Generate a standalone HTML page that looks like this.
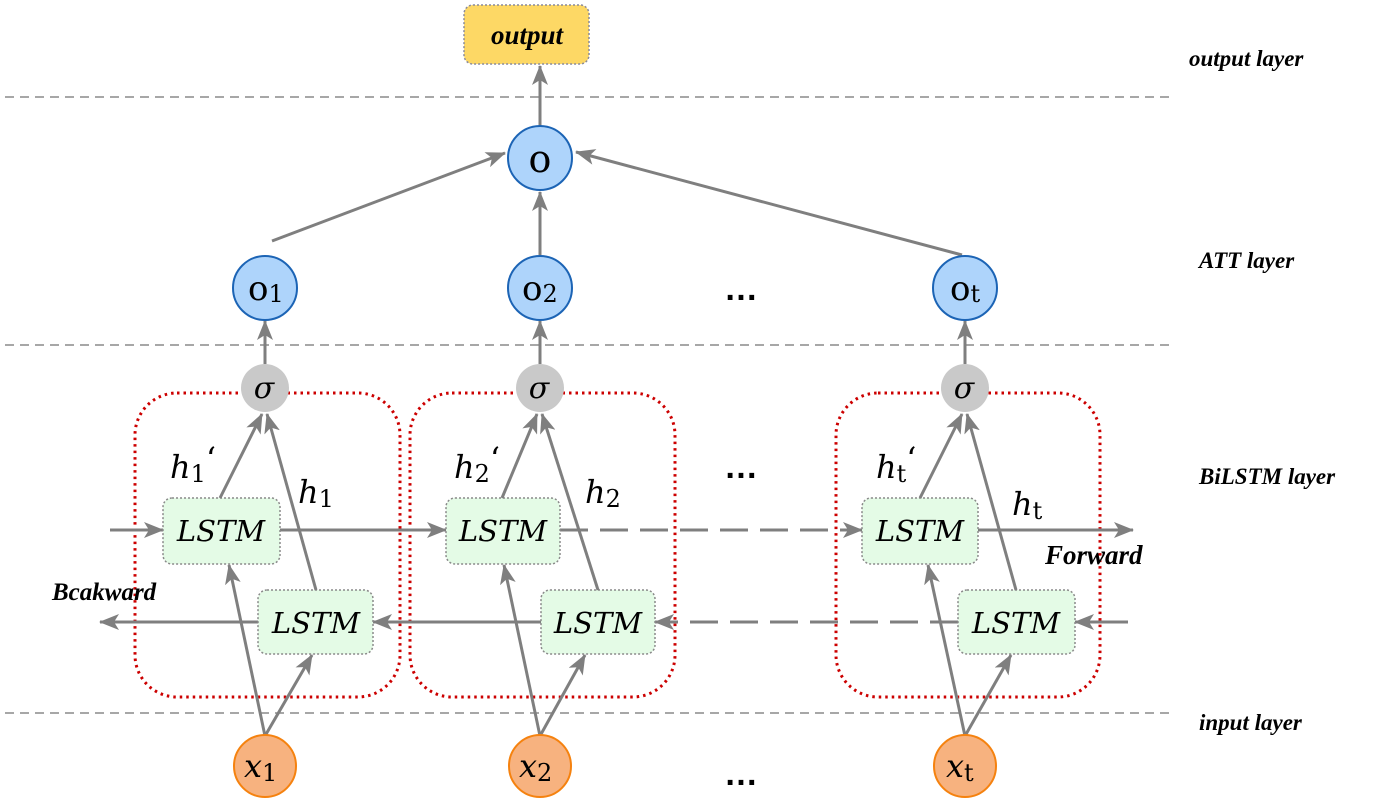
<!DOCTYPE html>
<html><head><meta charset="utf-8"><style>
html,body{margin:0;padding:0;background:#fff;}
svg{display:block;}
.lbl{font-family:"Liberation Serif",serif;font-style:italic;font-weight:bold;fill:#000;}
.m{font-family:"DejaVu Serif","Liberation Serif",serif;fill:#000;}
</style></head><body>
<svg width="1381" height="806" viewBox="0 0 1381 806" xmlns="http://www.w3.org/2000/svg">
<defs>
<marker id="a" viewBox="0 0 20 16" refX="19" refY="8" markerWidth="20" markerHeight="16" markerUnits="userSpaceOnUse" orient="auto">
<path d="M0,0 L20,8 L0,16 L5,8 Z" fill="#7f7f7f"/>
</marker>
</defs>
<g stroke="#8a8a8a" stroke-width="1.4" stroke-dasharray="9,6" fill="none">
<line x1="5" y1="97" x2="1173" y2="97"/>
<line x1="5" y1="345" x2="1173" y2="345"/>
<line x1="5" y1="713" x2="1173" y2="713"/>
</g>
<rect x="464" y="5" width="125" height="59" rx="9" fill="#fdd865" stroke="#8a8a9a" stroke-width="1.5" stroke-dasharray="2,2"/>
<text x="527" y="44" text-anchor="middle" class="lbl" font-size="27">output</text>
<g fill="none" stroke="#c00" stroke-width="3" stroke-dasharray="2.5,4">
<rect x="135" y="393" width="265" height="304" rx="42"/>
<rect x="410" y="393" width="265" height="304" rx="42"/>
<rect x="836" y="393" width="264" height="304" rx="42"/>
</g>
<g stroke="#7f7f7f" stroke-width="3" fill="none" marker-end="url(#a)">
<line x1="540" y1="126" x2="540" y2="66"/>
<line x1="272" y1="241" x2="505" y2="153"/>
<line x1="540" y1="255" x2="540" y2="192"/>
<line x1="962" y1="255" x2="576" y2="152"/>
<line x1="265" y1="364" x2="265" y2="321"/>
<line x1="540" y1="364" x2="540" y2="321"/>
<line x1="965" y1="364" x2="965" y2="321"/>
<line x1="110" y1="530" x2="163" y2="530"/>
<line x1="280" y1="530" x2="446" y2="530"/>
<line x1="560" y1="530" x2="862" y2="530" stroke-dasharray="28,12"/>
<line x1="978" y1="530" x2="1133" y2="530"/>
<line x1="1128" y1="622" x2="1075" y2="622"/>
<line x1="958" y1="622" x2="655" y2="622" stroke-dasharray="28,12"/>
<line x1="541" y1="622" x2="373" y2="622"/>
<line x1="258" y1="622" x2="100" y2="622"/>
</g>
<g fill="#e4fbe6" stroke="#8a8a8a" stroke-width="1.5" stroke-dasharray="2,2">
<rect x="163" y="498" width="117" height="66" rx="9"/>
<rect x="258" y="590" width="115" height="64" rx="9"/>
<rect x="446" y="498" width="114" height="66" rx="9"/>
<rect x="541" y="590" width="114" height="64" rx="9"/>
<rect x="862" y="498" width="116" height="66" rx="9"/>
<rect x="958" y="590" width="117" height="64" rx="9"/>
</g>
<g class="m" font-style="italic" font-size="29" text-anchor="middle">
<text x="221" y="541">LSTM</text><text x="316" y="633">LSTM</text>
<text x="503" y="541">LSTM</text><text x="598" y="633">LSTM</text>
<text x="920" y="541">LSTM</text><text x="1016" y="633">LSTM</text>
</g>
<g stroke="#7f7f7f" stroke-width="3" fill="none" marker-end="url(#a)">
<line x1="265" y1="736" x2="229" y2="565"/>
<line x1="265" y1="736" x2="312" y2="655"/>
<line x1="540" y1="736" x2="504" y2="565"/>
<line x1="540" y1="736" x2="585" y2="655"/>
<line x1="965" y1="736" x2="928" y2="565"/>
<line x1="965" y1="736" x2="1011" y2="655"/>
<line x1="220" y1="498" x2="262" y2="414"/>
<line x1="316" y1="590" x2="267" y2="414"/>
<line x1="502" y1="498" x2="537" y2="414"/>
<line x1="598" y1="590" x2="542" y2="414"/>
<line x1="920" y1="498" x2="962" y2="414"/>
<line x1="1016" y1="590" x2="967" y2="414"/>
</g>
<g fill="#c9c9c9">
<circle cx="265" cy="388" r="24"/><circle cx="540" cy="388" r="24"/><circle cx="965" cy="388" r="24"/>
</g>
<g class="m" font-style="italic" font-size="30" text-anchor="middle">
<text x="264" y="398">σ</text><text x="539" y="398">σ</text><text x="964" y="398">σ</text>
</g>
<g fill="#aed4fb" stroke="#1c64b5" stroke-width="2">
<circle cx="540" cy="158" r="32"/>
<circle cx="265" cy="288" r="32"/><circle cx="540" cy="288" r="32"/><circle cx="965" cy="288" r="32"/>
</g>
<text x="540" y="172" text-anchor="middle" class="m" font-size="38">o</text>
<g class="m" font-size="34">
<text x="248" y="300">o<tspan font-size="24" dy="2">1</tspan></text>
<text x="522" y="300">o<tspan font-size="24" dy="2">2</tspan></text>
<text x="950" y="300">o<tspan font-size="24" dy="2">t</tspan></text>
</g>
<g fill="#f7b27f" stroke="#f5820f" stroke-width="2">
<circle cx="265" cy="766" r="31"/><circle cx="540" cy="766" r="31"/><circle cx="965" cy="766" r="31"/>
</g>
<g class="m" font-size="32" font-style="italic">
<text x="244" y="777">x<tspan font-style="normal" font-size="24" dy="4">1</tspan></text>
<text x="519" y="777">x<tspan font-style="normal" font-size="24" dy="4">2</tspan></text>
<text x="946" y="777">x<tspan font-style="normal" font-size="24" dy="4">t</tspan></text>
</g>
<g class="m" font-size="32" font-style="italic">
<text x="170" y="478">h<tspan font-style="normal" font-size="24" dy="4">1</tspan><tspan font-style="normal" dy="-12">‘</tspan></text>
<text x="298" y="503">h<tspan font-style="normal" font-size="24" dy="4">1</tspan></text>
<text x="454" y="478">h<tspan font-style="normal" font-size="24" dy="4">2</tspan><tspan font-style="normal" dy="-12">‘</tspan></text>
<text x="585" y="503">h<tspan font-style="normal" font-size="24" dy="4">2</tspan></text>
<text x="876" y="478">h<tspan font-style="normal" font-size="24" dy="4">t</tspan><tspan font-style="normal" dy="-12">‘</tspan></text>
<text x="1012" y="515">h<tspan font-style="normal" font-size="24" dy="4">t</tspan></text>
</g>
<g font-family="Liberation Sans,sans-serif" font-weight="bold" font-size="34" text-anchor="middle">
<text x="741" y="300">…</text><text x="741" y="478">…</text><text x="741" y="785">…</text>
</g>
<text x="1045" y="564" class="lbl" font-size="27">Forward</text>
<text x="52" y="600" class="lbl" font-size="25">Bcakward</text>
<g class="lbl" font-size="23">
<text x="1189" y="66">output layer</text>
<text x="1199" y="268">ATT layer</text>
<text x="1199" y="484">BiLSTM layer</text>
<text x="1199" y="730">input layer</text>
</g>
</svg>
</body></html>
